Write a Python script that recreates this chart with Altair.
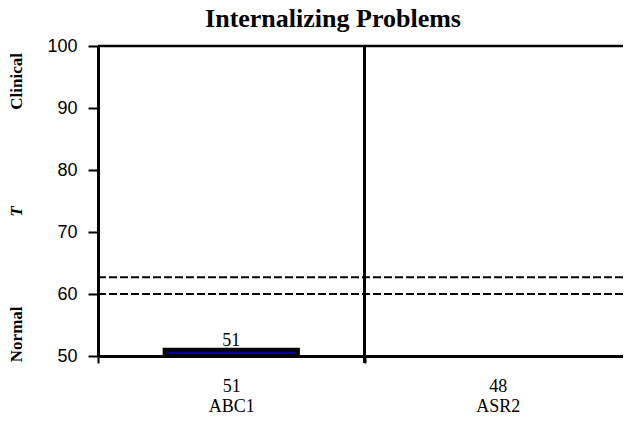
import altair as alt
import pandas as pd

# ---- data ----
categories = ["ABC1", "ASR2"]
scores = [51, 48]
cutoffs = [60, 62.7]
y_ticks = [50, 55, 60, 65, 70, 75, 80, 85, 90, 95, 100]
side_labels = ["Clinical", "Normal"]
side_label_pos = [94.3, 53.5]
t_label = ["T"]
t_label_pos = [73.3]
title_text = ["Internalizing Problems"]

Y_MIN, Y_MAX = 50, 100

df = pd.DataFrame({
    "cat": [f"{s}|{c}" for s, c in zip(scores, categories)],
    "score": scores,
    "base": [Y_MIN] * len(scores),
    "idx": list(range(len(categories))),
})
cut_df = pd.DataFrame({"cut": cutoffs})
side_df = pd.DataFrame({"label": side_labels, "pos": side_label_pos})
t_df = pd.DataFrame({"label": t_label, "pos": t_label_pos})
top_df = pd.DataFrame({"top": [Y_MAX]})
title_df = pd.DataFrame({"label": title_text})

x_scale = alt.Scale(paddingInner=0, paddingOuter=0, range=[0, 533])
y_scale = alt.Scale(domain=[Y_MIN, Y_MAX], nice=False, zero=False)

x_axis = alt.Axis(
    title=None,
    labelExpr="isValid(datum.value) ? split(datum.value, '|') : ''",
    labelFont="Liberation Serif",
    labelFontSize=18,
    labelColor="black",
    labelLineHeight=20,
    labelPadding=14,
    labelAngle=0,
    tickBand="extent",
    tickSize=7,
    tickWidth=2,
    tickColor="black",
    domainColor="black",
    domainWidth=3,
    grid=False,
)
y_axis = alt.Axis(
    title=None,
    values=y_ticks,
    labelExpr="datum.value % 10 == 0 ? datum.label : ''",
    labelFont="Liberation Sans",
    labelFontSize=18,
    labelColor="black",
    labelPadding=11,
    tickSize=10,
    tickWidth=2,
    tickColor="black",
    domainColor="black",
    domainWidth=3,
    grid=False,
)

X = alt.X("cat:N", sort=None, scale=x_scale, axis=x_axis)

axis_layer = alt.Chart(df).mark_point(opacity=0).encode(
    x=X,
    y=alt.Y("score:Q", scale=y_scale, axis=y_axis),
)

bars = alt.Chart(df).transform_filter(
    f"datum.score > {Y_MIN}"
).mark_bar(
    clip=True, width=alt.RelativeBandSize(0.5), fill="#0000A0", stroke="black", strokeWidth=4
).encode(
    x=alt.X("cat:N", sort=None, scale=x_scale),
    y=alt.Y("score:Q", scale=y_scale),
    y2="base:Q",
)

bar_text = alt.Chart(df).transform_filter(
    f"datum.score > {Y_MIN}"
).mark_text(
    font="Liberation Serif", fontSize=18, color="black", baseline="alphabetic", dy=-4
).encode(
    x=alt.X("cat:N", sort=None, scale=x_scale),
    y=alt.Y("score:Q", scale=y_scale),
    text="score:Q",
)

separator = alt.Chart(df).transform_filter("datum.idx > 0").mark_rule(
    color="black", strokeWidth=3
).encode(
    x=alt.X("cat:N", sort=None, scale=x_scale, bandPosition=0),
    y=alt.value(0),
    y2=alt.value(317),
)

cut_lines = alt.Chart(cut_df).mark_rule(
    color="black", strokeWidth=2, strokeDash=[8, 3]
).encode(y=alt.Y("cut:Q", scale=y_scale))

top_line = alt.Chart(top_df).mark_rule(color="black", strokeWidth=2.5).encode(
    y=alt.Y("top:Q", scale=y_scale)
)

side = alt.Chart(side_df).mark_text(
    font="Liberation Serif", fontSize=17, fontWeight="bold", angle=270,
    align="center", baseline="middle", color="black"
).encode(
    x=alt.value(-81),
    y=alt.Y("pos:Q", scale=y_scale),
    text="label:N",
)

t_text = alt.Chart(t_df).mark_text(
    font="Liberation Serif", fontSize=17, fontWeight="bold", fontStyle="italic",
    angle=270, align="center", baseline="middle", color="black"
).encode(
    x=alt.value(-81),
    y=alt.Y("pos:Q", scale=y_scale),
    text="label:N",
)

title = alt.Chart(title_df).mark_text(
    font="Liberation Serif", fontSize=26, fontWeight="bold", color="black",
    align="center", baseline="alphabetic"
).encode(
    x=alt.value(235),
    y=alt.value(-19),
    text="label:N",
)

chart = alt.layer(
    axis_layer, cut_lines, top_line, bars, bar_text, separator, side, t_text, title
).properties(
    width=525,
    height=310,
    autosize=alt.AutoSizeParams(type="none"),
    padding={"left": 90, "top": 38, "right": 0, "bottom": 58},
).configure_view(stroke=None).configure(background="white")

chart.save("out.html", embed_options={"renderer": "svg", "actions": False})
